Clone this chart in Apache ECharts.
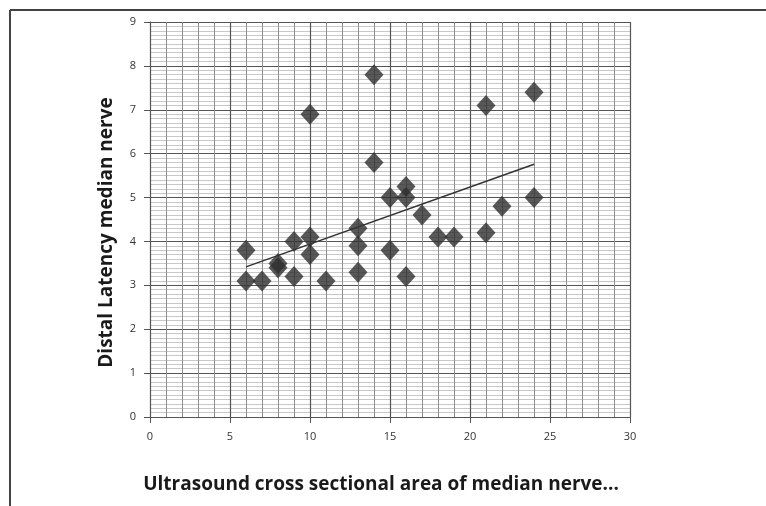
<!DOCTYPE html>
<html>
<head>
<meta charset="utf-8">
<script src="https://cdn.jsdelivr.net/npm/echarts@6/dist/echarts.min.js"></script>
<style>
  html, body { margin: 0; padding: 0; background: #fff; }
  #main { width: 766px; height: 506px; }
</style>
</head>
<body>
<div id="main"></div>
<script>
	// cross sectional area (x) and distal latency (y)
	var areaValues = [6, 6, 7, 8, 8, 9, 9, 10, 10, 10, 11, 13, 13, 13, 14, 14, 15, 15, 16, 16, 16, 17, 18, 19, 21, 21, 22, 24, 24];
	var latencyValues = [3.8, 3.1, 3.1, 3.5, 3.4, 4.0, 3.2, 4.1, 3.7, 6.9, 3.1, 4.3, 3.9, 3.3, 7.8, 5.8, 5.0, 3.8, 5.25, 5.0, 3.2, 4.6, 4.1, 4.1, 7.1, 4.2, 4.8, 7.4, 5.0];
	// trend line end points
	var trendX = [6, 24];
	var trendY = [3.42, 5.76];

	var points = [];
	for (var i = 0; i < areaValues.length; i++) {
		points.push([areaValues[i], latencyValues[i]]);
	}
	var trend = [];
	for (var j = 0; j < trendX.length; j++) {
		trend.push([trendX[j], trendY[j]]);
	}

	var labelFont = '"Open Sans", sans-serif';

	var myChart = echarts.init(document.getElementById('main'));
	var option = {
		animation: false,
		backgroundColor: '#fff',
		graphic: [{
			type: 'line',
			shape: { x1: 10, y1: 10, x2: 766, y2: 10 },
			style: { stroke: '#444', lineWidth: 2 }
		}, {
			type: 'line',
			shape: { x1: 10, y1: 10, x2: 10, y2: 506 },
			style: { stroke: '#444', lineWidth: 2 }
		}],
		grid: {
			left: 150,
			right: 136,
			top: 22,
			bottom: 89
		},
		xAxis: {
			type: 'value',
			min: 0,
			max: 30,
			interval: 5,
			name: 'Ultrasound cross sectional area of median nerve...',
			nameLocation: 'middle',
			nameGap: 58,
			nameTextStyle: {
				color: '#1a1a1a',
				fontSize: 19,
				fontWeight: 'bold',
				fontFamily: labelFont,
				padding: [0, 18, 0, 0]
			},
			axisLine: { lineStyle: { color: '#555', width: 1 } },
			axisTick: { show: true, length: 6, lineStyle: { color: '#555' } },
			axisLabel: { color: '#333', fontSize: 11, margin: 14, fontFamily: labelFont },
			splitLine: { show: true, lineStyle: { color: '#555', width: 1.2 } },
			minorTick: { show: false, splitNumber: 5 },
			minorSplitLine: { show: true, lineStyle: { color: '#8f8f8f', width: 1 } }
		},
		yAxis: {
			type: 'value',
			min: 0,
			max: 9,
			interval: 1,
			name: 'Distal Latency median nerve',
			nameLocation: 'middle',
			nameGap: 34,
			nameTextStyle: {
				color: '#1a1a1a',
				fontSize: 19,
				fontWeight: 'bold',
				fontFamily: labelFont,
				padding: [0, 26, 0, 0]
			},
			axisLine: { show: true, lineStyle: { color: '#555', width: 1 } },
			axisTick: { show: true, length: 6, lineStyle: { color: '#555' } },
			axisLabel: { color: '#333', fontSize: 11, margin: 14, fontFamily: labelFont },
			splitLine: { show: true, lineStyle: { color: '#555', width: 1.2 } },
			minorTick: { show: false, splitNumber: 10 },
			minorSplitLine: { show: true, lineStyle: { color: '#c8c8c8', width: 1 } }
		},
		series: [{
			type: 'scatter',
			data: points,
			symbol: 'diamond',
			symbolSize: [19, 21],
			itemStyle: { color: '#2e2e2e' },
			z: 3
		}, {
			type: 'line',
			data: trend,
			symbol: 'none',
			lineStyle: { color: '#333', width: 1.5 },
			z: 4
		}]
	};
	myChart.setOption(option);
</script>
</body>
</html>
